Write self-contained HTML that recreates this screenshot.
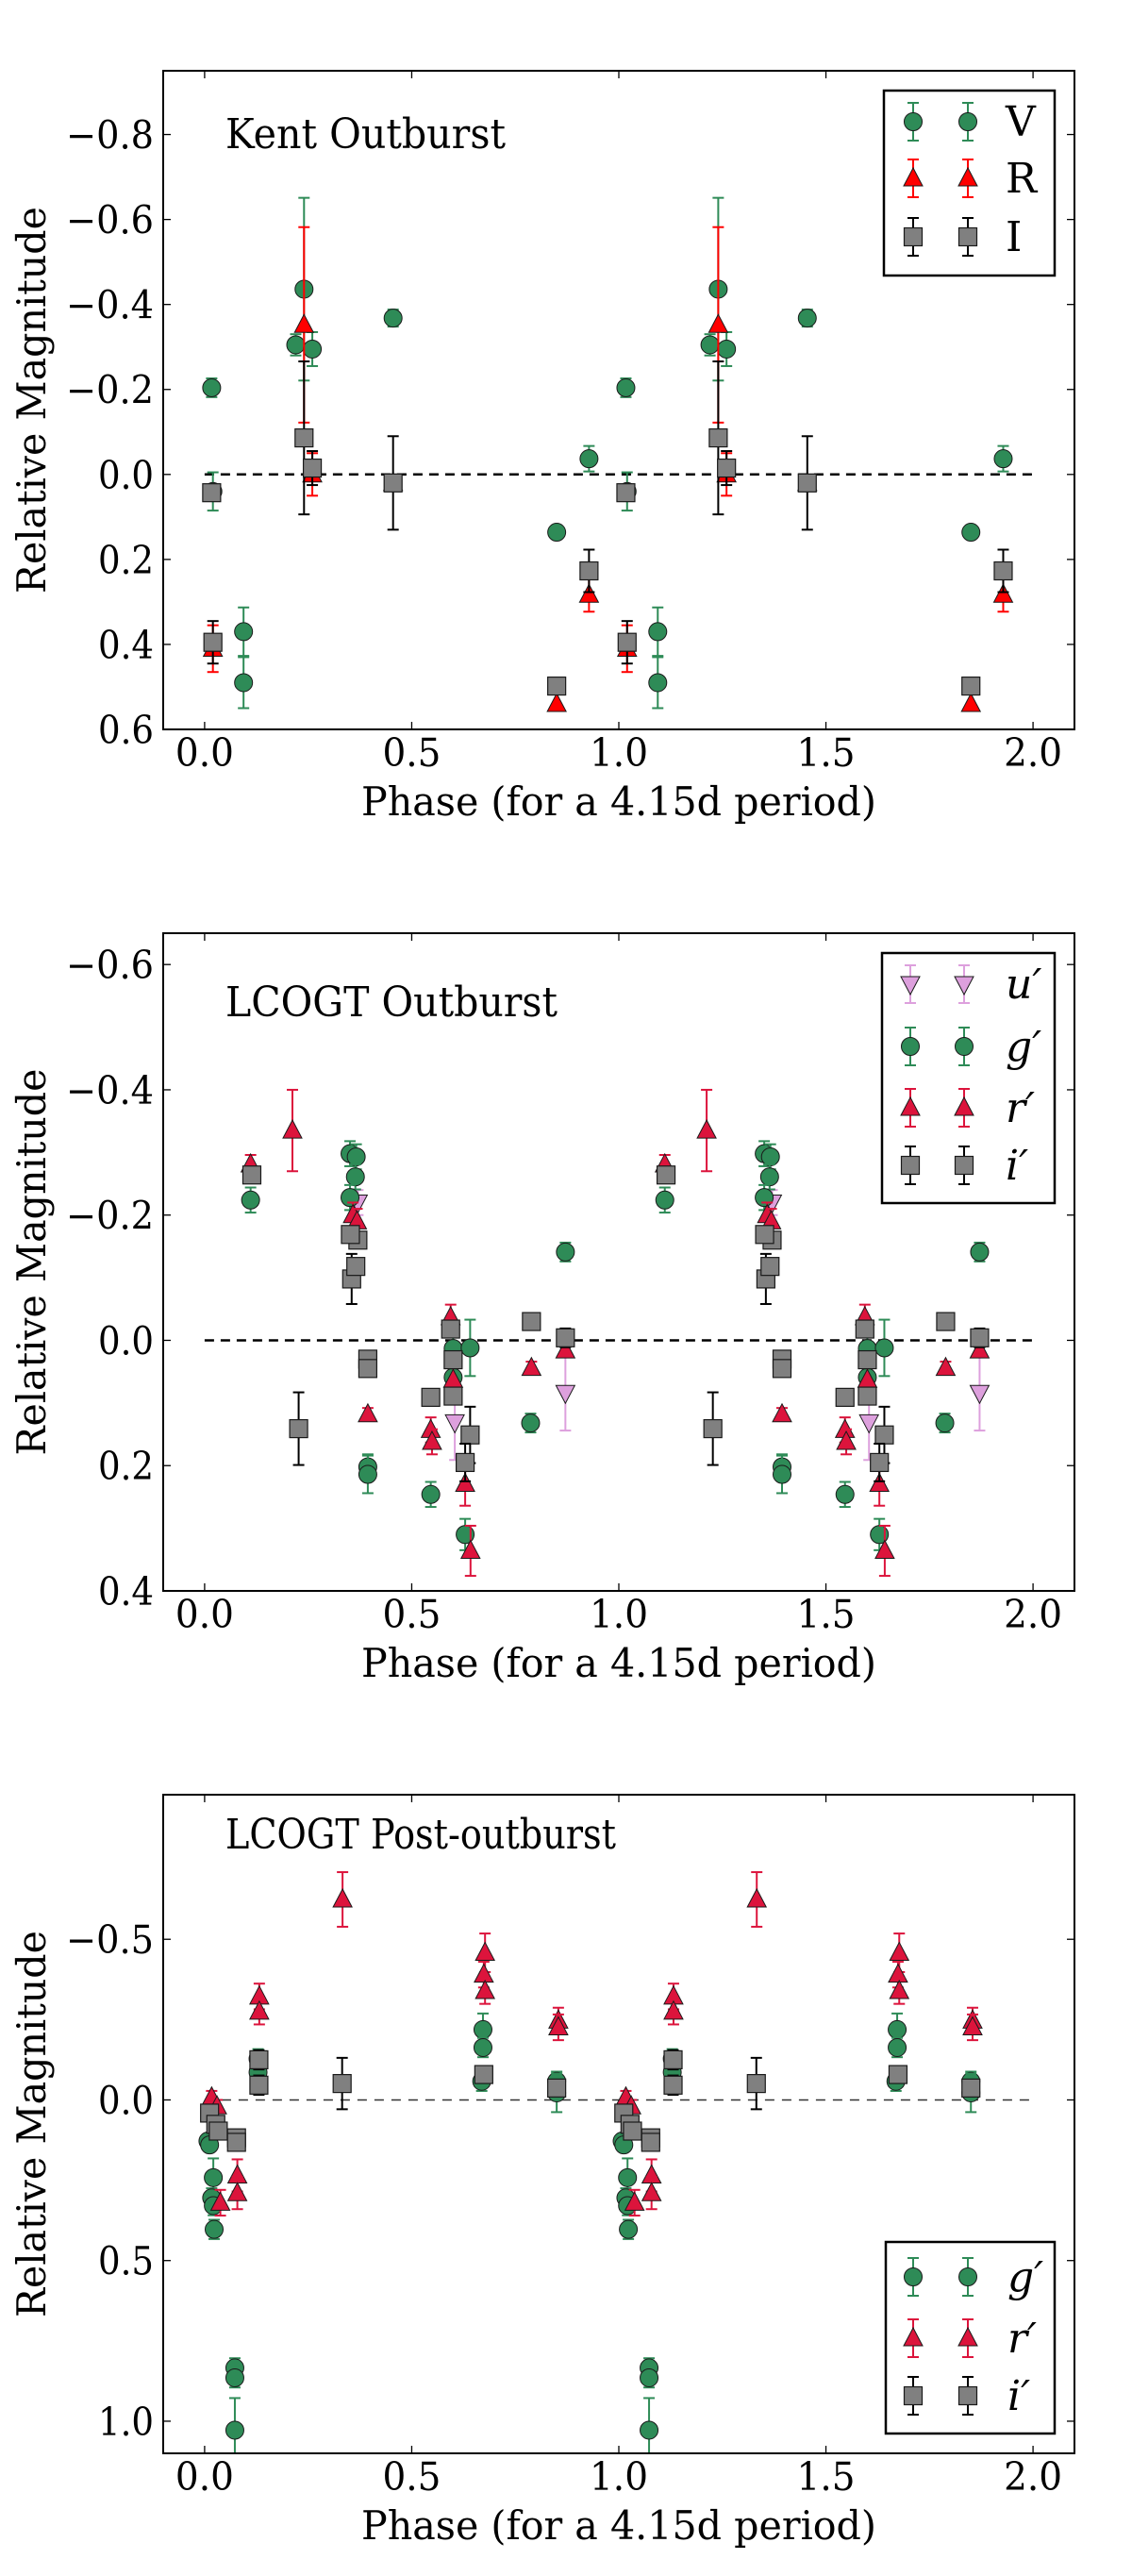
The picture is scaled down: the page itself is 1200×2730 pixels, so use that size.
<!DOCTYPE html>
<html><head><meta charset="utf-8"><style>
html,body{margin:0;padding:0;background:#fff;}
svg{display:block;}
text{font-family:"DejaVu Serif","Liberation Serif",serif;fill:#000;}
</style></head><body>
<svg id="fig" width="1200" height="2730" viewBox="0 0 1200 2730" xmlns="http://www.w3.org/2000/svg"></svg>
<script>
// ---------- Panel 1: Kent Outburst ----------
const kentVPhase=[0.017,0.02,0.094,0.094,0.22,0.24,0.26,0.455,0.85,0.928];
const kentVMag=[-0.204,0.04,0.37,0.49,-0.305,-0.436,-0.295,-0.368,0.136,-0.037];
const kentVErr=[0.022,0.045,0.057,0.06,0.025,0.215,0.04,0.02,0.01,0.03];
const kentRPhase=[0.02,0.24,0.26,0.455,0.85,0.928];
const kentRMag=[0.41,-0.352,0.0,0.02,0.54,0.283];
const kentRErr=[0.055,0.23,0.05,0.01,0.0,0.04];
const kentIPhase=[0.02,0.017,0.24,0.26,0.455,0.85,0.928];
const kentIMag=[0.395,0.043,-0.086,-0.015,0.02,0.498,0.227];
const kentIErr=[0.05,0.0,0.18,0.04,0.11,0.0,0.05];
const kentYTicks=[-0.8,-0.6,-0.4,-0.2,0.0,0.2,0.4,0.6];
const kentYTickLabels=["−0.8","−0.6","−0.4","−0.2","0.0","0.2","0.4","0.6"];
// ---------- Panel 2: LCOGT Outburst ----------
const outUPhase=[0.37,0.604,0.871];
const outUMag=[-0.22,0.131,0.084];
const outUErr=[0.02,0.06,0.06];
const outGPhase=[0.111,0.351,0.366,0.364,0.351,0.394,0.394,0.546,0.60,0.60,0.641,0.629,0.787,0.871];
const outGMag=[-0.224,-0.298,-0.293,-0.261,-0.228,0.202,0.214,0.246,0.013,0.059,0.012,0.31,0.132,-0.141];
const outGErr=[0.02,0.02,0.02,0.02,0.02,0.02,0.03,0.02,0.02,0.02,0.045,0.025,0.015,0.015];
const outRPhase=[0.111,0.212,0.358,0.368,0.394,0.546,0.549,0.594,0.60,0.629,0.642,0.789,0.871];
const outRMag=[-0.281,-0.335,-0.2,-0.19,0.118,0.143,0.162,-0.037,0.063,0.229,0.336,0.044,0.016];
const outRErr=[0.015,0.065,0.02,0.02,0.01,0.02,0.02,0.02,0.02,0.035,0.04,0.01,0.01];
const outIPhase=[0.114,0.227,0.355,0.365,0.37,0.352,0.394,0.394,0.546,0.594,0.60,0.60,0.641,0.629,0.789,0.871];
const outIMag=[-0.264,0.141,-0.098,-0.118,-0.16,-0.169,0.03,0.045,0.091,-0.018,0.031,0.089,0.151,0.195,-0.03,-0.004];
const outIErr=[0.01,0.058,0.04,0.01,0.01,0.01,0.01,0.01,0.01,0.01,0.01,0.01,0.045,0.03,0.01,0.015];
const outYTicks=[-0.6,-0.4,-0.2,0.0,0.2,0.4];
const outYTickLabels=["−0.6","−0.4","−0.2","0.0","0.2","0.4"];
// ---------- Panel 3: LCOGT Post-outburst ----------
const postGPhase=[0.008,0.012,0.021,0.017,0.021,0.023,0.073,0.073,0.073,0.129,0.129,0.672,0.672,0.669,0.85,0.85];
const postGMag=[0.128,0.14,0.242,0.305,0.329,0.403,0.834,0.865,1.028,-0.086,-0.128,-0.219,-0.163,-0.058,-0.058,-0.022];
const postGErr=[0.02,0.02,0.06,0.03,0.03,0.03,0.03,0.03,0.1,0.03,0.03,0.05,0.03,0.03,0.03,0.06];
const postRPhase=[0.017,0.03,0.038,0.079,0.079,0.132,0.132,0.333,0.677,0.674,0.677,0.854,0.854];
const postRMag=[-0.008,0.02,0.32,0.235,0.29,-0.322,-0.275,-0.624,-0.458,-0.39,-0.339,-0.247,-0.226];
const postRErr=[0.02,0.02,0.04,0.05,0.05,0.04,0.04,0.085,0.06,0.04,0.04,0.04,0.04];
const postIPhase=[0.012,0.027,0.033,0.077,0.077,0.131,0.131,0.332,0.674,0.85];
const postIMag=[0.041,0.076,0.097,0.118,0.132,-0.125,-0.046,-0.051,-0.079,-0.037];
const postIErr=[0.01,0.01,0.01,0.01,0.01,0.03,0.03,0.08,0.02,0.02];
const postYTicks=[-0.5,0.0,0.5,1.0];
const postYTickLabels=["−0.5","0.0","0.5","1.0"];
// shared x axis
const xTicks=[0.0,0.5,1.0,1.5,2.0];
const xTickLabels=["0.0","0.5","1.0","1.5","2.0"];

const NS="http://www.w3.org/2000/svg";
const svg=document.getElementById('fig');
function mk(tag,attrs,parent){const e=document.createElementNS(NS,tag);for(const k in attrs)e.setAttribute(k,attrs[k]);(parent||svg).appendChild(e);return e;}

const X0=173,X1=1139,XMIN=-0.1,XMAX=2.1;
function xs(p){return X0+(p-XMIN)/(XMAX-XMIN)*(X1-X0);}

function marker(g,shape,cx,cy,fill){
  let m;
  if(shape==='o'){m=mk('ellipse',{cx:cx,cy:cy,rx:9.5,ry:9.5,fill:fill,stroke:'#1a1a1a','stroke-width':1},g);}
  else if(shape==='s'){m=mk('rect',{x:cx-9.5,y:cy-9.5,width:19,height:19,fill:fill,stroke:'#1a1a1a','stroke-width':1.2},g);}
  else if(shape==='^'){m=mk('polygon',{points:`${cx},${cy-11} ${cx-10},${cy+8} ${cx+10},${cy+8}`,fill:fill,stroke:'#1a1a1a','stroke-width':1},g);}
  else {m=mk('polygon',{points:`${cx},${cy+11} ${cx-10},${cy-8} ${cx+10},${cy-8}`,fill:fill,stroke:'#1a1a1a','stroke-width':1},g);}
  return m;
}
function errbar(g,cx,y1,y2,col){
  mk('line',{x1:cx,y1:y1,x2:cx,y2:y2,stroke:col,'stroke-width':2},g);
  mk('line',{x1:cx-6,y1:y1,x2:cx+6,y2:y1,stroke:col,'stroke-width':2},g);
  mk('line',{x1:cx-6,y1:y2,x2:cx+6,y2:y2,stroke:col,'stroke-width':2},g);
}

function panel(cfg){
  const {id,top,bottom,ymin,ymax,yTicks,yLabels,title,titleLen,series,legend,serifFont,dashStyle}=cfg;
  const ys=v=>top+(v-ymin)/(ymax-ymin)*(bottom-top);
  const g=mk('g',{});
  
  
  const clipId=id+'-clip';
  const cp=mk('clipPath',{id:clipId},g);
  mk('rect',{x:X0,y:top,width:X1-X0,height:bottom-top},cp);
  // zero line
  const zl=mk('line',{x1:xs(0),y1:ys(0),x2:xs(2),y2:ys(0),stroke:dashStyle.col,'stroke-width':dashStyle.w,'stroke-dasharray':dashStyle.dash},g);
  
  
  // data
  const dg=mk('g',{'clip-path':`url(#${clipId})`},g);
  
  
  series.forEach(s=>{
    const sg=mk('g',{},dg);
    
    
    for(const off of [0,1]){
      s.phase.forEach((p,i)=>{
        const px=xs(p+off);
        const py=ys(s.mag[i]);
        if(s.err[i]>0) errbar(sg,px,ys(s.mag[i]-s.err[i]),ys(s.mag[i]+s.err[i]),s.ecol);
        const m=marker(sg,s.shape,px,py,s.fill);
        
        
      });
    }
  });
  // frame
  const fr=mk('rect',{x:X0,y:top,width:X1-X0,height:bottom-top,fill:'none',stroke:'#000','stroke-width':2},g);
  
  
  // ticks
  xTicks.forEach((t,i)=>{
    const x=xs(t);
    mk('line',{x1:x,y1:bottom,x2:x,y2:bottom-8,stroke:'#000','stroke-width':1.3},g);
    mk('line',{x1:x,y1:top,x2:x,y2:top+8,stroke:'#000','stroke-width':1.3},g);
    const tx=mk('text',{x:x,y:bottom+39,'text-anchor':'middle','font-size':41,textLength:62,lengthAdjust:'spacingAndGlyphs','font-family':serifFont},g);
    tx.textContent=xTickLabels[i];
    
    
  });
  yTicks.forEach((t,i)=>{
    const y=ys(t);
    mk('line',{x1:X0,y1:y,x2:X0+8,y2:y,stroke:'#000','stroke-width':1.3},g);
    mk('line',{x1:X1,y1:y,x2:X1-8,y2:y,stroke:'#000','stroke-width':1.3},g);
    const lab=yLabels[i];
    const len=lab.length>3?93:59;
    const tx=mk('text',{x:163,y:y+15,'text-anchor':'end','font-size':41,textLength:len,lengthAdjust:'spacingAndGlyphs','font-family':serifFont},g);
    tx.textContent=lab;
    
    
  });
  // axis titles
  const xl=mk('text',{x:656,y:bottom+91,'text-anchor':'middle','font-size':42,textLength:546,lengthAdjust:'spacingAndGlyphs','font-family':serifFont},g);
  xl.textContent='Phase (for a 4.15d period)';
  
  
  const cy=(top+bottom)/2;
  const yl=mk('text',{x:0,y:0,'text-anchor':'middle','font-size':42,textLength:410,lengthAdjust:'spacingAndGlyphs',transform:`translate(48,${cy}) rotate(-90)`},g);
  yl.textContent='Relative Magnitude';
  
  
  // panel title
  const tt=mk('text',{x:239,y:cfg.titleY+16,'font-size':44,textLength:titleLen,lengthAdjust:'spacingAndGlyphs','font-family':serifFont},g);
  tt.textContent=title;
  
  
  // legend
  const lg=mk('g',{},g);
  
  
  mk('rect',{x:legend.x1,y:legend.y1,width:legend.x2-legend.x1,height:legend.y2-legend.y1,fill:'#fff',stroke:'#000','stroke-width':2.5},lg);
  legend.rows.forEach((ry,i)=>{
    const s=series[i];
    const eg=mk('g',{},lg);
    
    
    [legend.m1,legend.m2].forEach(mx=>{
      errbar(eg,mx,ry-20,ry+20,s.ecol);
      marker(eg,s.shape,mx,ry,s.fill);
    });
    const lt=mk('text',{x:legend.tx,y:ry+15,'font-size':44,'font-style':legend.italic?'italic':'normal','font-family':serifFont},eg);
    lt.textContent=s.label;
  });
}

const GREEN='#2e8b57',GRAY='#808080';
panel({id:'kent-outburst',top:75,bottom:773,ymin:-0.95,ymax:0.6,yTicks:kentYTicks,yLabels:kentYTickLabels,
  title:'Kent Outburst',titleLen:297,titleY:141,serifFont:'"Liberation Serif","DejaVu Serif",serif',
  dashStyle:{col:'#000',w:2.5,dash:'10 7'},
  series:[
    {name:'V',label:'V',phase:kentVPhase,mag:kentVMag,err:kentVErr,shape:'o',fill:GREEN,ecol:GREEN},
    {name:'R',label:'R',phase:kentRPhase,mag:kentRMag,err:kentRErr,shape:'^',fill:'#ff0000',ecol:'#ff0000'},
    {name:'I',label:'I',phase:kentIPhase,mag:kentIMag,err:kentIErr,shape:'s',fill:GRAY,ecol:'#000'}],
  legend:{x1:937,y1:96,x2:1118,y2:292,rows:[129,189,251],m1:968,m2:1026,tx:1066,italic:false}});

panel({id:'lcogt-outburst',top:989,bottom:1686,ymin:-0.65,ymax:0.4,yTicks:outYTicks,yLabels:outYTickLabels,
  title:'LCOGT Outburst',titleLen:352,titleY:1061,serifFont:'"DejaVu Serif",serif',
  dashStyle:{col:'#000',w:2.5,dash:'10 7'},
  series:[
    {name:'u',label:'u′',phase:outUPhase,mag:outUMag,err:outUErr,shape:'v',fill:'#dda0dd',ecol:'#dda0dd'},
    {name:'g',label:'g′',phase:outGPhase,mag:outGMag,err:outGErr,shape:'o',fill:GREEN,ecol:GREEN},
    {name:'r',label:'r′',phase:outRPhase,mag:outRMag,err:outRErr,shape:'^',fill:'#dc143c',ecol:'#dc143c'},
    {name:'i',label:'i′',phase:outIPhase,mag:outIMag,err:outIErr,shape:'s',fill:GRAY,ecol:'#000'}],
  legend:{x1:935,y1:1010,x2:1118,y2:1275,rows:[1043,1109,1174,1235],m1:965,m2:1022,tx:1066,italic:true}});

panel({id:'lcogt-post-outburst',top:1902,bottom:2600,ymin:-0.95,ymax:1.1,yTicks:postYTicks,yLabels:postYTickLabels,
  title:'LCOGT Post-outburst',titleLen:414,titleY:1943,serifFont:'"DejaVu Serif",serif',
  dashStyle:{col:'#333',w:1.5,dash:'10 8'},
  series:[
    {name:'g',label:'g′',phase:postGPhase,mag:postGMag,err:postGErr,shape:'o',fill:GREEN,ecol:GREEN},
    {name:'r',label:'r′',phase:postRPhase,mag:postRMag,err:postRErr,shape:'^',fill:'#dc143c',ecol:'#dc143c'},
    {name:'i',label:'i′',phase:postIPhase,mag:postIMag,err:postIErr,shape:'s',fill:GRAY,ecol:'#000'}],
  legend:{x1:939,y1:2376,x2:1118,y2:2579,rows:[2413,2478,2539],m1:968,m2:1026,tx:1068,italic:true}});
</script>
</body></html>
